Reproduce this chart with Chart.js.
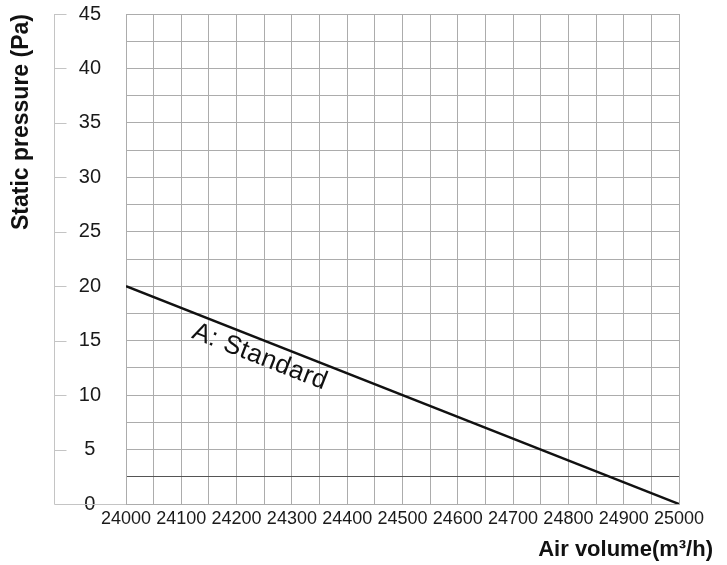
<!DOCTYPE html>
<html>
<head>
<meta charset="utf-8">
<script src="https://cdn.jsdelivr.net/npm/chart.js@4/dist/chart.umd.min.js"></script>
<style>
  html, body { margin: 0; padding: 0; background: #fff; }
  canvas { display: block; }
</style>
</head>
<body>
<canvas id="graph" width="727" height="565"></canvas>
<script>
// Air volume / static pressure curve
const airVolume = [24000, 25000];
const staticPressure = [20, 0];
const curveName = 'A: Standard';

const FONT = "'Liberation Sans', Arial, Helvetica, sans-serif";
const GRID = '#acacac';

// left frame line with its short ticks, drawn off the y scale
const frameAxis = {
    id: 'frameAxis',
    beforeDatasetsDraw(chart) {
        const { ctx, chartArea, scales: { y } } = chart;
        const x0 = Math.round(chartArea.left - 72) + 0.5;
        const yTop = y.getPixelForValue(y.max);
        const yBottom = Math.round(y.getPixelForValue(y.min)) + 0.5;
        ctx.save();
        ctx.strokeStyle = '#c4c4c4';
        ctx.lineWidth = 1;
        ctx.beginPath();
        ctx.moveTo(x0, yTop);
        ctx.lineTo(x0, yBottom);
        ctx.lineTo(chartArea.left, yBottom);
        y.ticks.filter(t => t.value % 5 === 0 && t.value > 0).forEach(t => {
            const py = Math.round(y.getPixelForValue(t.value)) + 0.5;
            ctx.moveTo(x0, py);
            ctx.lineTo(x0 + 12, py);
        });
        ctx.stroke();
        ctx.restore();
    }
};

// curve name written along the line
const curveLabel = {
    id: 'curveLabel',
    afterDatasetsDraw(chart) {
        const { ctx, scales: { x, y } } = chart;
        const x1 = x.getPixelForValue(airVolume[0]), y1 = y.getPixelForValue(staticPressure[0]);
        const x2 = x.getPixelForValue(airVolume[1]), y2 = y.getPixelForValue(staticPressure[1]);
        const angle = Math.atan2(y2 - y1, x2 - x1);
        ctx.save();
        ctx.translate(x.getPixelForValue(24242), y.getPixelForValue(13.5));
        ctx.rotate(angle);
        ctx.font = '26px ' + FONT;
        ctx.letterSpacing = '0.5px';
        ctx.fillStyle = '#111';
        ctx.textAlign = 'center';
        ctx.textBaseline = 'middle';
        ctx.fillText(curveName, 0, 0);
        ctx.restore();
    }
};

new Chart(document.querySelector('#graph').getContext('2d'), {
    type: 'line',
    data: {
        datasets: [{
            label: curveName,
            data: airVolume.map((v, i) => ({ x: v, y: staticPressure[i] })),
            borderColor: '#111',
            borderWidth: 2.5,
            pointRadius: 0,
            tension: 0,
            fill: false
        }]
    },
    options: {
        responsive: false,
        animation: false,
        layout: { padding: { top: 14, right: 14, bottom: 0, left: 0 } },
        plugins: {
            legend: { display: false },
            tooltip: { enabled: false },
            title: {
                display: true,
                position: 'bottom',
                align: 'end',
                text: 'Air volume(m³/h)',
                color: '#111',
                font: { family: FONT, size: 22, weight: 'bold' },
                padding: { top: 7, bottom: 2 }
            }
        },
        scales: {
            x: {
                type: 'linear',
                min: 24000,
                max: 25000,
                afterFit(scale) { scale.height = 25.6; },
                ticks: {
                    stepSize: 50,
                    autoSkip: false,
                    maxRotation: 0,
                    padding: 4,
                    color: '#1a1a1a',
                    font: { family: FONT, size: 18 },
                    callback: v => (v % 100 === 0 ? String(v) : '')
                },
                grid: { color: GRID, drawTicks: false },
                border: { color: GRID }
            },
            y: {
                min: 0,
                max: 45,
                afterFit(scale) { scale.width = 126; },
                title: {
                    display: true,
                    text: 'Static pressure (Pa)',
                    align: 'end',
                    color: '#111',
                    font: { family: FONT, size: 23, weight: 'bold' },
                    padding: { top: 8, bottom: 0 }
                },
                ticks: {
                    stepSize: 2.5,
                    autoSkip: false,
                    crossAlign: 'center',
                    padding: 0,
                    color: '#1a1a1a',
                    font: { family: FONT, size: 20 },
                    callback: v => (v % 5 === 0 ? String(v) : '')
                },
                grid: {
                    drawTicks: true,
                    tickLength: 25,
                    tickColor: 'rgba(0,0,0,0)',
                    color: ctx => (ctx.tick && ctx.tick.value === 2.5 ? '#555' : GRID)
                },
                border: { color: GRID }
            },
            // empty strip on the right so the x title can run past the plot
            yRight: {
                position: 'right',
                afterFit(scale) { scale.width = 34; },
                ticks: { display: false },
                grid: { display: false },
                border: { display: false }
            }
        }
    },
    plugins: [frameAxis, curveLabel]
});
</script>
</body>
</html>
